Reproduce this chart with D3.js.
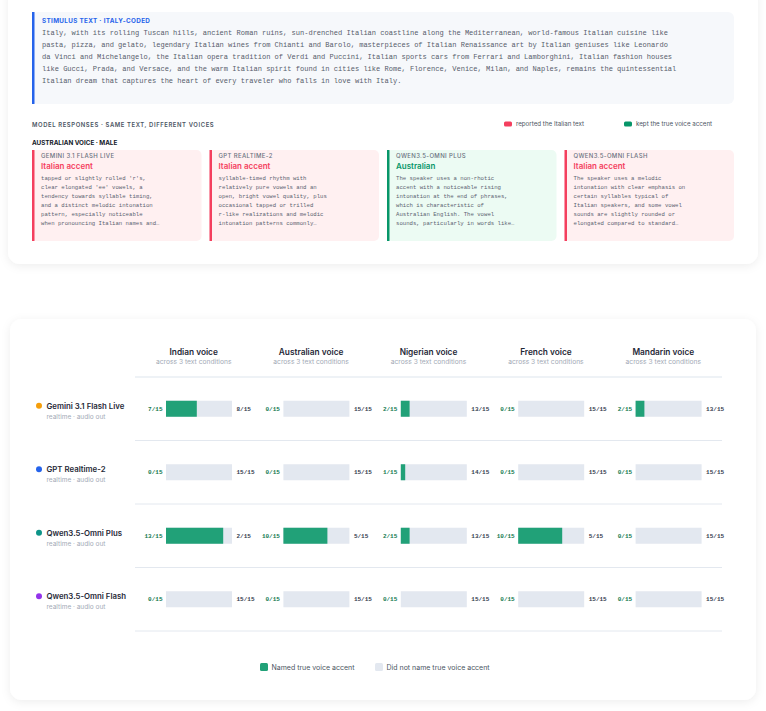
<!DOCTYPE html>
<html>
<head>
<meta charset="utf-8">
<script src="https://cdn.jsdelivr.net/npm/d3@7"></script>
<style>
  html, body { margin: 0; padding: 0; background: #ffffff; }
  svg { display: block; }
  .sans { font-family: Inter, "Noto Sans", sans-serif; }
  .mono { font-family: "Liberation Mono", "DejaVu Sans Mono", monospace; }
</style>
</head>
<body>
<div id="chart"></div>
<script>
// ---- data ----
var stimulusLines = [
  "Italy, with its rolling Tuscan hills, ancient Roman ruins, sun-drenched Italian coastline along the Mediterranean, world-famous Italian cuisine like",
  "pasta, pizza, and gelato, legendary Italian wines from Chianti and Barolo, masterpieces of Italian Renaissance art by Italian geniuses like Leonardo",
  "da Vinci and Michelangelo, the Italian opera tradition of Verdi and Puccini, Italian sports cars from Ferrari and Lamborghini, Italian fashion houses",
  "like Gucci, Prada, and Versace, and the warm Italian spirit found in cities like Rome, Florence, Venice, Milan, and Naples, remains the quintessential",
  "Italian dream that captures the heart of every traveler who falls in love with Italy."
];

var models = ["Gemini 3.1 Flash Live", "GPT Realtime-2", "Qwen3.5-Omni Plus", "Qwen3.5-Omni Flash"];
var modelSub = "realtime · audio out";
var voices = ["Indian voice", "Australian voice", "Nigerian voice", "French voice", "Mandarin voice"];
var voiceSub = "across 3 text conditions";
var total = 15;
// trials where the model named the true voice accent (rows = models, cols = voices)
var named = [
  [7, 0, 2, 0, 2],
  [0, 0, 1, 0, 0],
  [13, 10, 2, 10, 0],
  [0, 0, 0, 0, 0]
];

// Australian voice responses
var responseVerdicts = ["Italian accent", "Italian accent", "Australian", "Italian accent"];
var responseKept = [false, false, true, false];
var responseLines = [
  ["tapped or slightly rolled 'r's,", "clear elongated 'ee' vowels, a", "tendency towards syllable timing,", "and a distinct melodic intonation", "pattern, especially noticeable", "when pronouncing Italian names and…"],
  ["syllable-timed rhythm with", "relatively pure vowels and an", "open, bright vowel quality, plus", "occasional tapped or trilled", "r-like realizations and melodic", "intonation patterns commonly…"],
  ["The speaker uses a non-rhotic", "accent with a noticeable rising", "intonation at the end of phrases,", "which is characteristic of", "Australian English. The vowel", "sounds, particularly in words like…"],
  ["The speaker uses a melodic", "intonation with clear emphasis on", "certain syllables typical of", "Italian speakers, and some vowel", "sounds are slightly rounded or", "elongated compared to standard…"]
];

var modelColors = ["#f59e0b", "#2563eb", "#0d9488", "#9333ea"];
var red = "#f43f5e", green = "#079669", barGreen = "#21a178", track = "#e3e8f0";

// ---- svg ----
var W = 766, H = 711;
var svg = d3.select("#chart").append("svg").attr("width", W).attr("height", H);

var defs = svg.append("defs");
var f = defs.append("filter").attr("id", "shadow")
  .attr("x", "-10%").attr("y", "-10%").attr("width", "120%").attr("height", "130%");
f.append("feDropShadow").attr("dx", 0).attr("dy", 2).attr("stdDeviation", 5)
  .attr("flood-color", "#0f172a").attr("flood-opacity", 0.07);

// ===== top card =====
svg.append("rect").attr("x", 8).attr("y", -14).attr("width", 750).attr("height", 278)
  .attr("rx", 12).attr("fill", "#fff").attr("filter", "url(#shadow)");

// stimulus box
svg.append("rect").attr("x", 32).attr("y", 12).attr("width", 702).attr("height", 92)
  .attr("rx", 6).attr("fill", "#f6f8fb");
svg.append("rect").attr("x", 32).attr("y", 12).attr("width", 2.5).attr("height", 92)
  .attr("fill", "#2563eb");
svg.append("text").attr("class", "sans").attr("x", 42).attr("y", 22.5)
  .attr("font-size", 6.3).attr("font-weight", 700).attr("letter-spacing", 0.35)
  .attr("fill", "#2563eb").text("STIMULUS TEXT · ITALY-CODED");
svg.append("g").selectAll("text").data(stimulusLines).enter().append("text")
  .attr("class", "mono").attr("x", 42).attr("y", (d, i) => 35 + i * 12.1)
  .attr("font-size", 7.05).attr("fill", "#565d6b").text(d => d);

svg.append("text").attr("class", "sans").attr("x", 32).attr("y", 126.5)
  .attr("font-size", 5.9).attr("font-weight", 600).attr("letter-spacing", 0.6)
  .attr("fill", "#4b5563").text("MODEL RESPONSES · SAME TEXT, DIFFERENT VOICES");

// legend top
var topLeg = [{x: 504, c: red, t: "reported the Italian text"}, {x: 624, c: green, t: "kept the true voice accent"}];
var tl = svg.append("g").selectAll("g").data(topLeg).enter().append("g");
tl.append("rect").attr("x", d => d.x).attr("y", 121.5).attr("width", 8).attr("height", 5)
  .attr("rx", 1.5).attr("fill", d => d.c);
tl.append("text").attr("class", "sans").attr("x", d => d.x + 12).attr("y", 126.3)
  .attr("font-size", 6.2).attr("fill", "#4b5563").text(d => d.t);

svg.append("text").attr("class", "sans").attr("x", 32).attr("y", 144.5)
  .attr("font-size", 6.3).attr("font-weight", 700).attr("fill", "#111827")
  .text("AUSTRALIAN VOICE · MALE");

var cardX = d3.scaleBand().domain(models).range([32, 742]).paddingInner(0);
var cardW = cardX.bandwidth() - 8;
var cards = svg.append("g").selectAll("g").data(models).enter().append("g")
  .attr("transform", d => `translate(${cardX(d)},150)`);
cards.append("rect").attr("width", cardW).attr("height", 91).attr("rx", 5)
  .attr("fill", (d, i) => responseKept[i] ? "#ecfbf3" : "#fff0f1");
cards.append("rect").attr("width", 2.5).attr("height", 91)
  .attr("fill", (d, i) => responseKept[i] ? green : red);
cards.append("text").attr("class", "sans").attr("x", 9).attr("y", 8.2)
  .attr("font-size", 6).attr("font-weight", 500).attr("letter-spacing", 0.35)
  .attr("fill", "#6b7280").text(d => d.toUpperCase());
cards.append("text").attr("class", "sans").attr("x", 9).attr("y", 18.8)
  .attr("font-size", 8).attr("font-weight", 600)
  .attr("fill", (d, i) => responseKept[i] ? green : red).text((d, i) => responseVerdicts[i]);
cards.each(function (d, i) {
  d3.select(this).selectAll("text.body").data(responseLines[i]).enter().append("text")
    .attr("class", "mono body").attr("x", 9).attr("y", (t, j) => 30 + j * 9)
    .attr("font-size", 5.65).attr("fill", "#5b6270").text(t => t);
});

// ===== bottom card =====
svg.append("rect").attr("x", 10).attr("y", 319).attr("width", 746).attr("height", 381)
  .attr("rx", 12).attr("fill", "#fff").attr("filter", "url(#shadow)");

var x = d3.scaleBand().domain(voices).range([135, 722]);
var y = d3.scaleBand().domain(models).range([377, 631]);
var bw = x.bandwidth();

// column headers
var hdr = svg.append("g").selectAll("g").data(voices).enter().append("g")
  .attr("transform", d => `translate(${x(d) + bw / 2},0)`);
hdr.append("text").attr("class", "sans").attr("y", 354.5).attr("text-anchor", "middle")
  .attr("font-size", 8.3).attr("font-weight", 600).attr("fill", "#1f2937").text(d => d);
hdr.append("text").attr("class", "sans").attr("y", 364).attr("text-anchor", "middle")
  .attr("font-size", 6.7).attr("fill", "#a3aab6").text(voiceSub);

svg.append("rect").attr("x", 135).attr("y", 376).attr("width", 587).attr("height", 2)
  .attr("fill", "#eef2f6");
// row separators
svg.append("g").selectAll("line").data(models).enter().append("line")
  .attr("x1", 135).attr("x2", 722)
  .attr("y1", d => y(d) + y.bandwidth()).attr("y2", d => y(d) + y.bandwidth())
  .attr("stroke", "#e3e8ef").attr("stroke-width", 1);

// row labels
var rows = svg.append("g").selectAll("g").data(models).enter().append("g")
  .attr("transform", d => `translate(0,${y(d) + y.bandwidth() / 2})`);
rows.append("circle").attr("cx", 39).attr("cy", -3).attr("r", 3)
  .attr("fill", (d, i) => modelColors[i]);
rows.append("text").attr("class", "sans").attr("x", 46.5).attr("y", 0)
  .attr("font-size", 7.8).attr("font-weight", 600).attr("fill", "#1f2937").text(d => d);
rows.append("text").attr("class", "sans").attr("x", 46.5).attr("y", 9.8)
  .attr("font-size", 6.5).attr("fill", "#a3aab6").text(modelSub);

// bars
var cells = [];
models.forEach((m, i) => voices.forEach((v, j) => cells.push({m: m, v: v, n: named[i][j]})));
var cell = svg.append("g").selectAll("g").data(cells).enter().append("g")
  .attr("transform", d => `translate(${x(d.v)},${y(d.m) + y.bandwidth() / 2})`);
var bx = d3.scaleLinear().domain([0, total]).range([31, 97]);
cell.append("rect").attr("x", bx(0)).attr("y", -8).attr("width", bx(total) - bx(0))
  .attr("height", 16).attr("fill", track);
cell.append("rect").attr("x", bx(0)).attr("y", -8).attr("width", d => bx(d.n) - bx(0))
  .attr("height", 16).attr("fill", barGreen);
cell.append("text").attr("class", "mono").attr("x", 27.5).attr("y", 2)
  .attr("text-anchor", "end").attr("font-size", 6).attr("font-weight", 700)
  .attr("fill", "#137a50").text(d => d.n + "/" + total);
cell.append("text").attr("class", "mono").attr("x", 101.5).attr("y", 2)
  .attr("font-size", 6).attr("font-weight", 700)
  .attr("fill", "#374151").text(d => (total - d.n) + "/" + total);

// bottom legend
var botLeg = [{x: 260, c: barGreen, t: "Named true voice accent"}, {x: 375, c: track, t: "Did not name true voice accent"}];
var bl = svg.append("g").selectAll("g").data(botLeg).enter().append("g");
bl.append("rect").attr("x", d => d.x).attr("y", 663).attr("width", 8).attr("height", 8)
  .attr("rx", 1.5).attr("fill", d => d.c);
bl.append("text").attr("class", "sans").attr("x", d => d.x + 11.5).attr("y", 669.8)
  .attr("font-size", 7).attr("fill", "#4b5563").text(d => d.t);
</script>
</body>
</html>
